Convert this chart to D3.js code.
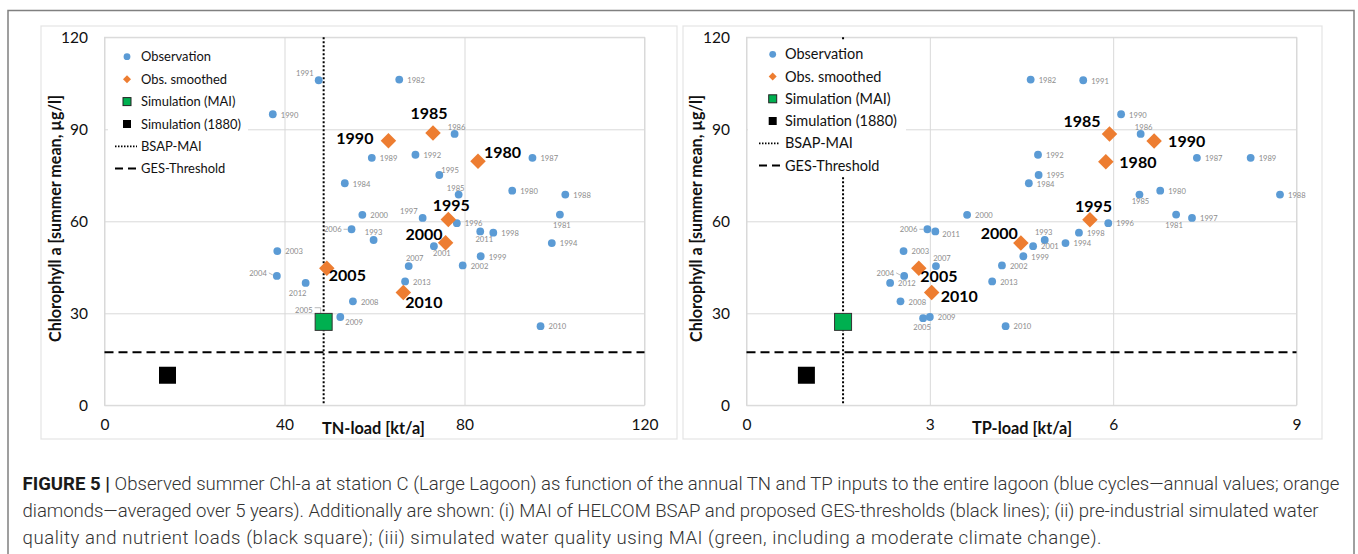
<!DOCTYPE html>
<html>
<head>
<meta charset="utf-8">
<script src="https://cdn.jsdelivr.net/npm/d3@7"></script>
<style>
  html, body { margin: 0; padding: 0; background: #fff; }
  svg { display: block; }
</style>
</head>
<body>
<svg id="chart" width="1358" height="554"></svg>
<script>
// ---------------- DATA ----------------
const obsYears = [1980,1981,1982,1984,1985,1986,1987,1988,1989,1990,1991,1992,1993,1994,1995,1996,1997,1998,1999,2000,2001,2002,2003,2004,2005,2006,2007,2008,2009,2010,2011,2012,2013];
const obsChl   = [70.0,62.2,106.2,72.4,68.7,88.5,80.7,68.7,80.7,94.9,106.0,81.7,53.9,52.9,75.1,59.4,61.1,56.3,48.6,62.1,51.9,45.6,50.3,42.2,28.4,57.4,45.4,33.9,28.8,25.8,56.7,39.9,40.4];
const obsTN    = [90.6,101.2,65.5,53.4,78.7,77.8,95.1,102.4,59.4,37.4,47.6,69.1,59.8,99.4,74.4,78.3,70.7,86.4,83.6,57.3,73.2,79.6,38.4,38.3,48.7,54.9,67.6,55.2,52.4,96.9,83.5,44.7,66.8];
const obsTP    = [6.77,7.03,4.65,4.62,6.43,6.45,7.37,8.73,8.25,6.13,5.51,4.77,4.88,5.22,4.78,5.92,7.29,5.44,4.53,3.61,4.69,4.18,2.57,2.58,2.89,2.96,3.10,2.52,3.00,4.24,3.09,2.35,4.02];

const smYears = [1980,1985,1990,1995,2000,2005,2010];
const smChlTN = [79.6,88.8,86.3,60.6,53.0,44.7,36.8];
const smChlTP = [79.4,88.5,86.2,60.5,52.9,44.7,36.8];
const smTN    = [83.0,73.0,63.1,76.4,75.8,49.4,66.4];
const smTP    = [5.88,5.94,6.67,5.62,4.49,2.82,3.03];

const simNames = ["Simulation (MAI)", "Simulation (1880)"];
const simTN    = [48.7, 14.0];
const simTP    = [1.58, 0.98];
const simChl   = [27.2, 9.8];

const bsapTN = [48.7];
const bsapTP = [1.58];
const gesChl = [17.3];

const yTicks   = [0, 30, 60, 90, 120];
const xTicksTN = [0, 40, 80, 120];
const xTicksTP = [0, 3, 6, 9];

const legendItems = ["Observation", "Obs. smoothed", "Simulation (MAI)", "Simulation (1880)", "BSAP-MAI", "GES-Threshold"];
const yTitle = "Chlorophyll a [summer mean, µg/l]";
const captionLines = [
  [["FIGURE 5 | ", true], ["Observed summer Chl-a at station C (Large Lagoon) as function of the annual TN and TP inputs to the entire lagoon (blue cycles\u2014annual values; orange", false]],
  [["diamonds\u2014averaged over 5 years). Additionally are shown: (i) MAI of HELCOM BSAP and proposed GES-thresholds (black lines); (ii) pre-industrial simulated water", false]],
  [["quality and nutrient loads (black square); (iii) simulated water quality using MAI (green, including a moderate climate change).", false]]
];

// ---------------- STYLE / LAYOUT ----------------
const BLUE = "#5B9BD5", ORANGE = "#ED7D31", GREEN = "#00B050", GRID = "#d9d9d9";
const FONT = "Lato, 'Open Sans', sans-serif";
const svg = d3.select("#chart");

function fit(sel, target) {
  const n = sel.node();
  const fs = parseFloat(sel.attr("font-size"));
  const w = n.getComputedTextLength();
  if (w > 0) sel.attr("font-size", (fs * target / w).toFixed(2));
  return parseFloat(sel.attr("font-size"));
}

// outer frame
svg.append("rect").attr("x", 8).attr("y", 10.5).attr("width", 1346).attr("height", 560)
  .attr("fill", "none").attr("stroke", "#808080").attr("stroke-width", 1.5);

// label placements (dx, dy-of-centre, anchor, leader)
const obsPlaceL = {
  1991:[-5,-7,"end"], 1986:[2,-7,"middle"], 1985:[-3,-6.5,"middle"], 1995:[2,-5,"start"],
  1997:[-5,-7,"end"], 1981:[2,10.5,"middle"], 2006:[-10,0,"end","dash"], 2011:[4,8,"middle"],
  1993:[0,-8,"middle"], 2001:[8,7,"middle"], 2007:[6,-8,"middle"], 2004:[-10,-3,"end","dash"],
  2012:[-8,10,"middle"], 2005:[-11,-8.5,"end","bracket"], 2009:[5,5,"start"]
};
const obsPlaceR = {
  1985:[1,6.5,"middle"], 1986:[3,-7,"middle"], 1981:[-2,10.5,"middle"], 1993:[-1,-7.5,"middle"],
  2006:[-10,0,"end","dash"], 2011:[7,2.5,"start"], 2007:[6,-8,"middle"], 2004:[-10,-3,"end","dash"],
  2005:[-1,8.5,"middle"]
};
const smPlaceL = {1980:[6,-8.5,"start"],1985:[-4,-19.5,"middle"],1990:[-15,-2,"end"],1995:[3,-14.5,"middle"],2000:[-3,-9,"end"],2005:[2,7,"start"],2010:[2,10,"start"]};
const smPlaceR = {1980:[13.5,0,"start"],1985:[-9,-12.5,"end"],1990:[14,0,"start"],1995:[3.5,-14,"middle"],2000:[-3,-9.5,"end"],2005:[1.5,7.5,"start"],2010:[9,4,"start"]};

function panel(cfg) {
  const g = svg.append("g");
  const x = d3.scaleLinear().domain(cfg.xDomain).range(cfg.xRange);
  const y = d3.scaleLinear().domain([0, 120]).range([405.3, 37.3]);

  // panel box
  g.append("rect").attr("x", cfg.box[0]).attr("y", 26).attr("width", cfg.box[1] - cfg.box[0]).attr("height", 413)
    .attr("fill", "none").attr("stroke", "#e4e4e4").attr("stroke-width", 1.2);

  // gridlines via axes
  const gx = g.append("g").attr("transform", `translate(0,${y(0)})`)
    .call(d3.axisBottom(x).tickValues(cfg.xTicks).tickSize(-(y(0) - y(120))).tickFormat(""));
  gx.select(".domain").remove();
  gx.selectAll("line").attr("stroke", GRID);
  const gy = g.append("g").attr("transform", `translate(${x(cfg.xDomain[0])},0)`)
    .call(d3.axisLeft(y).tickValues(yTicks).tickSize(-(x(cfg.xDomain[1]) - x(cfg.xDomain[0]))).tickFormat(""));
  gy.select(".domain").remove();
  gy.selectAll("line").attr("stroke", GRID);
  g.append("rect").attr("x", x(cfg.xDomain[0])).attr("y", y(120)).attr("width", x(cfg.xDomain[1]) - x(cfg.xDomain[0]))
    .attr("height", y(0) - y(120)).attr("fill", "none").attr("stroke", GRID);

  // tick labels
  const yl = g.append("g").attr("transform", `translate(${cfg.yLabelX},0)`)
    .call(d3.axisLeft(y).tickValues(yTicks).tickSize(0).tickPadding(0));
  yl.select(".domain").remove();
  yl.selectAll("text").attr("font-family", FONT).attr("font-size", 15.5).attr("fill", "#111").attr("dy", "0.35em");
  const xl = g.append("g").attr("transform", `translate(0,419)`)
    .call(d3.axisBottom(x).tickValues(cfg.xTicks).tickSize(0).tickPadding(0));
  xl.select(".domain").remove();
  xl.selectAll("text").attr("font-family", FONT).attr("font-size", 15.5).attr("fill", "#111").attr("dy", "0.71em");

  // axis titles
  const xt = g.append("text").attr("x", cfg.xTitleX).attr("y", 428).attr("dy", "0.35em")
    .attr("font-family", FONT).attr("font-weight", "bold").attr("font-size", 16).attr("fill", "#111").text(cfg.xTitle);
  fit(xt, cfg.xTitleW);
  const yt = g.append("text").attr("transform", `translate(${cfg.yTitleX},218.5) rotate(-90)`).attr("text-anchor", "middle")
    .attr("dy", "0.35em").attr("font-family", FONT).attr("font-weight", "bold").attr("font-size", 15).attr("fill", "#111").text(yTitle);
  fit(yt, 247);

  // reference lines
  g.append("line").attr("x1", x(cfg.xDomain[0])).attr("x2", x(cfg.xDomain[1])).attr("y1", y(gesChl[0])).attr("y2", y(gesChl[0]))
    .attr("stroke", "#000").attr("stroke-width", 2).attr("stroke-dasharray", "9,5");
  g.append("line").attr("x1", x(cfg.bsap)).attr("x2", x(cfg.bsap)).attr("y1", y(120)).attr("y2", y(0))
    .attr("stroke", "#000").attr("stroke-width", 2).attr("stroke-dasharray", "2,2");

  // legend
  const L = cfg.legend;
  g.append("rect").attr("x", L.bg[0]).attr("y", L.bg[1]).attr("width", L.bg[2]).attr("height", L.bg[3]).attr("fill", "#fff");
  const lt = g.selectAll(".lt").data(legendItems).enter().append("text")
    .attr("x", L.tx).attr("y", (d, i) => L.rows[i]).attr("dy", "0.35em")
    .attr("font-family", FONT).attr("font-size", 14).attr("fill", "#111").text(d => d);
  const lfs = fit(d3.select(lt.nodes()[3]), L.w);
  lt.attr("font-size", lfs);
  g.append("circle").attr("cx", L.mx).attr("cy", L.rows[0]).attr("r", 3.4).attr("fill", BLUE);
  g.append("path").attr("d", d3.symbol(d3.symbolSquare, 32)()).attr("transform", `translate(${L.mx},${L.rows[1]}) rotate(45)`).attr("fill", ORANGE);
  g.append("rect").attr("x", L.mx - 4).attr("y", L.rows[2] - 4).attr("width", 8).attr("height", 8).attr("fill", GREEN).attr("stroke", "#222").attr("stroke-width", 1);
  g.append("rect").attr("x", L.mx - 4).attr("y", L.rows[3] - 4).attr("width", 8).attr("height", 8).attr("fill", "#000");
  g.append("line").attr("x1", L.lx[0]).attr("x2", L.lx[1]).attr("y1", L.rows[4]).attr("y2", L.rows[4])
    .attr("stroke", "#000").attr("stroke-width", 1.6).attr("stroke-dasharray", "1.5,1.5");
  g.append("line").attr("x1", L.lx[0]).attr("x2", L.lx[1]).attr("y1", L.rows[5]).attr("y2", L.rows[5])
    .attr("stroke", "#000").attr("stroke-width", 2).attr("stroke-dasharray", "8,5");

  // observation points
  const obs = obsYears.map((yr, i) => ({yr, x: cfg.obsX[i], c: obsChl[i]}));
  g.selectAll(".obs").data(obs).enter().append("circle")
    .attr("cx", d => x(d.x)).attr("cy", d => y(d.c)).attr("r", 3.9).attr("fill", BLUE);
  obs.forEach(d => {
    const p = cfg.obsPlace[d.yr] || [8, 0.5, "start"];
    const px = x(d.x), py = y(d.c);
    g.append("text").attr("x", px + p[0]).attr("y", py + p[1] + 2.8)
      .attr("text-anchor", p[2]).attr("font-family", FONT).attr("font-size", 7.6).attr("fill", "#8c8c8c").text(d.yr);
    if (p[3] === "dash") {
      g.append("line").attr("x1", px + p[0] + 2).attr("x2", px - 4).attr("y1", py + p[1]).attr("y2", py + p[1] * 0.3)
        .attr("stroke", "#aaa").attr("stroke-width", 0.8);
    } else if (p[3] === "bracket") {
      g.append("path").attr("d", `M${px + p[0] + 2},${py + p[1] - 2} H${px - 3} V${py - 1}`)
        .attr("fill", "none").attr("stroke", "#aaa").attr("stroke-width", 0.8);
    }
  });

  // simulation squares
  g.selectAll(".sim").data(simNames).enter().append("rect")
    .attr("x", (d, i) => x(cfg.simX[i]) - 8.5).attr("y", (d, i) => y(simChl[i]) - 8.5)
    .attr("width", 17).attr("height", 17)
    .attr("fill", (d, i) => i === 0 ? GREEN : "#000").attr("stroke", (d, i) => i === 0 ? "#333" : "none").attr("stroke-width", 1);

  // smoothed diamonds
  const sm = smYears.map((yr, i) => ({yr, x: cfg.smX[i], c: cfg.smC[i]}));
  g.selectAll(".sm").data(sm).enter().append("path")
    .attr("d", d3.symbol(d3.symbolSquare, 120)())
    .attr("transform", d => `translate(${x(d.x)},${y(d.c)}) rotate(45)`).attr("fill", ORANGE);
  sm.forEach(d => {
    const p = cfg.smPlace[d.yr];
    g.append("text").attr("x", x(d.x) + p[0]).attr("y", y(d.c) + p[1] + 5.8).attr("text-anchor", p[2])
      .attr("font-family", FONT).attr("font-weight", "bold").attr("font-size", 16).attr("fill", "#000").text(d.yr);
  });
}

panel({
  xDomain: [0, 120], xRange: [104.5, 644.5], xTicks: xTicksTN, box: [41, 677],
  yLabelX: 88, xTitle: "TN-load [kt/a]", xTitleX: 322, xTitleW: 103, yTitleX: 55,
  bsap: bsapTN[0], obsX: obsTN, smX: smTN, smC: smChlTN, simX: simTN,
  obsPlace: obsPlaceL, smPlace: smPlaceL,
  legend: {bg: [108, 41, 140, 138], tx: 141, mx: 127, w: 100, lx: [115, 137],
           rows: [56.7, 79.2, 101.6, 124.0, 146.4, 168.4]}
});
panel({
  xDomain: [0, 9], xRange: [746.5, 1296.5], xTicks: xTicksTP, box: [683, 1322],
  yLabelX: 730, xTitle: "TP-load [kt/a]", xTitleX: 972, xTitleW: 100, yTitleX: 696,
  bsap: bsapTP[0], obsX: obsTP, smX: smTP, smC: smChlTP, simX: simTP,
  obsPlace: obsPlaceR, smPlace: smPlaceR,
  legend: {bg: [748, 41, 158, 136], tx: 785, mx: 772.7, w: 112, lx: [759, 780],
           rows: [54.3, 76.5, 98.8, 121.0, 143.4, 165.6]}
});

// caption
const capY = [489.5, 516.5, 543.5];
const capW = [1318, 1296, 1079];
const capNodes = captionLines.map((parts, li) => {
  const t = svg.append("text").attr("x", 22.5).attr("y", capY[li])
    .attr("font-family", "Roboto, 'Liberation Sans', sans-serif").attr("font-weight", 300)
    .attr("font-size", 16).attr("fill", "#333");
  parts.forEach(([s, b]) => {
    t.append("tspan").attr("font-weight", b ? "bold" : 300).attr("fill", b ? "#1a1a1a" : "#333").text(s);
  });
  return t;
});
const capFs = fit(capNodes[0], 1318);
capNodes.forEach((t, i) => {
  t.attr("font-size", capFs);
  const w = t.node().getComputedTextLength();
  if (Math.abs(w - capW[i]) > 2) t.attr("textLength", capW[i]).attr("lengthAdjust", "spacing");
});
</script>
</body>
</html>
